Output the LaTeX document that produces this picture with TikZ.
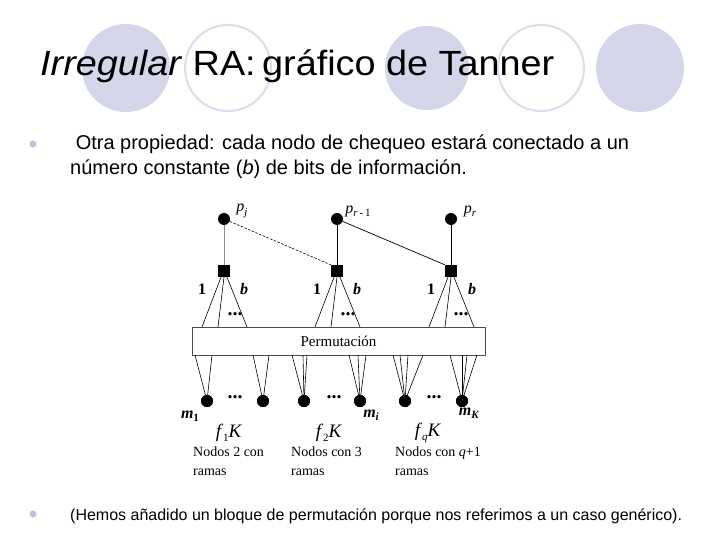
\documentclass[tikz,border=0pt]{standalone}
\usepackage{fontspec}
\setmainfont{Liberation Sans}
\newfontfamily\dgfont{Liberation Serif}
\definecolor{lav}{RGB}{214,214,234}
\definecolor{lavline}{RGB}{220,220,236}
\definecolor{bul}{RGB}{192,192,228}
\newcommand{\sbs}[1]{\raisebox{-0.45ex}{\fontsize{11}{11}\selectfont #1}}
\tikzset{
  fillcirc/.style={fill=lav},
  ringcirc/.style={draw=lavline, line width=2pt},
  bulletdot/.style={circle, fill=bul, inner sep=0pt, minimum size=7pt},
  bodytext/.style={anchor=base west, inner sep=0pt, font=\fontsize{20}{24}\selectfont},
  vnode/.style={circle, fill=black, inner sep=0pt, minimum size=12pt},
  cnode/.style={rectangle, fill=black, inner sep=0pt, minimum size=12pt},
  dglabel/.style={inner sep=0pt, font=\dgfont\fontsize{16}{16}\selectfont},
  dotsl/.style={inner sep=0pt, font=\dgfont\bfseries\fontsize{20}{20}\selectfont},
  fanline/.style={black, line width=0.6pt},
  captext/.style={anchor=north west, align=left, inner sep=0pt, font=\dgfont\fontsize{14}{19}\selectfont}
}
\begin{document}
\begin{tikzpicture}[x=1pt,y=-1pt]
\useasboundingbox (0,0) rectangle (720,540);
\fill[white] (0,0) rectangle (720,540);
% title decoration
\fill[fillcirc] (126,68) circle (44pt);
\draw[ringcirc] (228,68) circle (43pt);
\fill[fillcirc] (427,68) circle (42pt);
\draw[ringcirc] (541,68) circle (43pt);
\fill[fillcirc] (640,68) circle (44pt);
\node[anchor=base west, inner sep=0pt, font=\fontsize{35}{40}\selectfont] (title) at (40,76)
  {\scalebox{1.08}[1]{\textit{Irregular} RA:\hspace{6pt}gráfico de Tanner}};
% bullets
\node[bulletdot] (b1) at (33,144) {};
\node[bodytext] (t1) at (70,150) {\ Otra propiedad: cada nodo de chequeo estará conectado a un};
\node[bodytext] (t2) at (70,175) {número constante (\textit{b}) de bits de información.};
\node[bulletdot] (b2) at (33,514) {};
\node[bodytext, font=\fontsize{16}{19}\selectfont] (t3) at (70,520) {(Hemos añadido un bloque de permutación porque nos referimos a un caso genérico).};
% top nodes
\node[vnode] (p1) at (224,219) {};
\node[vnode] (p2) at (337,219) {};
\node[vnode] (p3) at (451,219) {};
\node[dglabel] (lp1) at (242,211) {\textit{p}\sbs{\textit{j}}};
\node[dglabel] (lp2) at (358,211) {\textit{p}\sbs{\textit{r}\,-\,1}};
\node[dglabel] (lp3) at (470,211) {\textit{p}\sbs{\textit{r}}};
% check nodes
\node[cnode] (c1) at (224,271) {};
\node[cnode] (c2) at (337,271) {};
\node[cnode] (c3) at (451,271) {};
\draw[black!45, line width=0.8pt] (p1) -- (c1);
\draw[line width=0.8pt] (p2) -- (c2);
\draw[line width=0.8pt] (p3) -- (c3);
\draw[dash pattern=on 2.5pt off 1.5pt, line width=0.6pt] (p1) -- (c2.north west);
\draw[line width=0.7pt] (p2) -- (c3.north west);
\node[dglabel, font=\dgfont\bfseries\fontsize{16}{16}\selectfont] (o1) at (202,289) {1};
\node[dglabel, font=\dgfont\bfseries\fontsize{16}{16}\selectfont] (o2) at (317,289) {1};
\node[dglabel, font=\dgfont\bfseries\fontsize{16}{16}\selectfont] (o3) at (431,289) {1};
\node[dglabel, font=\dgfont\bfseries\itshape\fontsize{16}{16}\selectfont] (bb1) at (244,289) {b};
\node[dglabel, font=\dgfont\bfseries\itshape\fontsize{16}{16}\selectfont] (bb2) at (357,289) {b};
\node[dglabel, font=\dgfont\bfseries\itshape\fontsize{16}{16}\selectfont] (bb3) at (472,289) {b};
% permutation box
\node[draw=black!70, line width=0.7pt, minimum width=293pt, minimum height=28pt, inner sep=0pt,
      font=\dgfont\fontsize{15}{15}\selectfont] (perm) at (338.5,341) {Permutación};
% top fans
\foreach \c/\dx in {c1/0, c2/113, c3/227} {
  \coordinate (ta) at (202+\dx,327);
  \coordinate (tb) at (218+\dx,327);
  \coordinate (tc) at (247+\dx,327);
  \draw[fanline] ([xshift=-3pt]\c.south) -- (ta);
  \draw[fanline] ([xshift=0pt]\c.south) -- (tb);
  \draw[fanline] ([xshift=3pt]\c.south) -- (tc);
}
\node[dotsl] (d1) at (235,314) {...};
\node[dotsl] (d2) at (348,314) {...};
\node[dotsl] (d3) at (461,314) {...};
% bottom nodes
\node[vnode] (m1) at (207,401) {};
\node[vnode] (m2) at (263,401) {};
\node[vnode] (m3) at (304,401) {};
\node[vnode] (m4) at (360,401) {};
\node[vnode] (m5) at (405,401) {};
\node[vnode] (m6) at (462,401) {};
\node[dotsl] (e1) at (235,397) {...};
\node[dotsl] (e2) at (334,397) {...};
\node[dotsl] (e3) at (434,397) {...};
% bottom fans
\foreach \m/\xs in {m1/{195,212}, m2/{253,269}, m3/{292,303,307}, m4/{349,358,366}, m5/{393,400,408,423}, m6/{450,462,467,477}} {
  \foreach \x in \xs {
    \coordinate (bt) at (\x,355);
    \draw[fanline] (bt) -- (\m.center);
  }
}
\foreach \m in {m1,m2,m3,m4,m5,m6} { \fill (\m) circle (6pt); }
% bottom labels
\node[dglabel, font=\dgfont\bfseries\fontsize{16}{16}\selectfont] (lm1) at (190,416) {\textit{m}\sbs{1}};
\node[dglabel, font=\dgfont\bfseries\fontsize{16}{16}\selectfont] (lm2) at (371,415) {\textit{m}\sbs{\textit{i}}};
\node[dglabel, font=\dgfont\bfseries\fontsize{16}{16}\selectfont] (lm3) at (469,413) {\textit{m}\sbs{\textit{K}}};
\node[dglabel, font=\dgfont\fontsize{19}{19}\selectfont] (f1) at (229,433) {\textit{f}\sbs{1}\textit{K}};
\node[dglabel, font=\dgfont\fontsize{19}{19}\selectfont] (f2) at (329,433) {\textit{f}\sbs{2}\textit{K}};
\node[dglabel, font=\dgfont\fontsize{19}{19}\selectfont] (f3) at (428,433) {\textit{f}\sbs{\textit{q}}\textit{K}};
\node[captext] (n1) at (193,447) {Nodos 2 con\\ramas};
\node[captext] (n2) at (291,447) {Nodos con 3\\ramas};
\node[captext] (n3) at (395,447) {Nodos con \textit{q}+1\\ramas};
\end{tikzpicture}
\end{document}
